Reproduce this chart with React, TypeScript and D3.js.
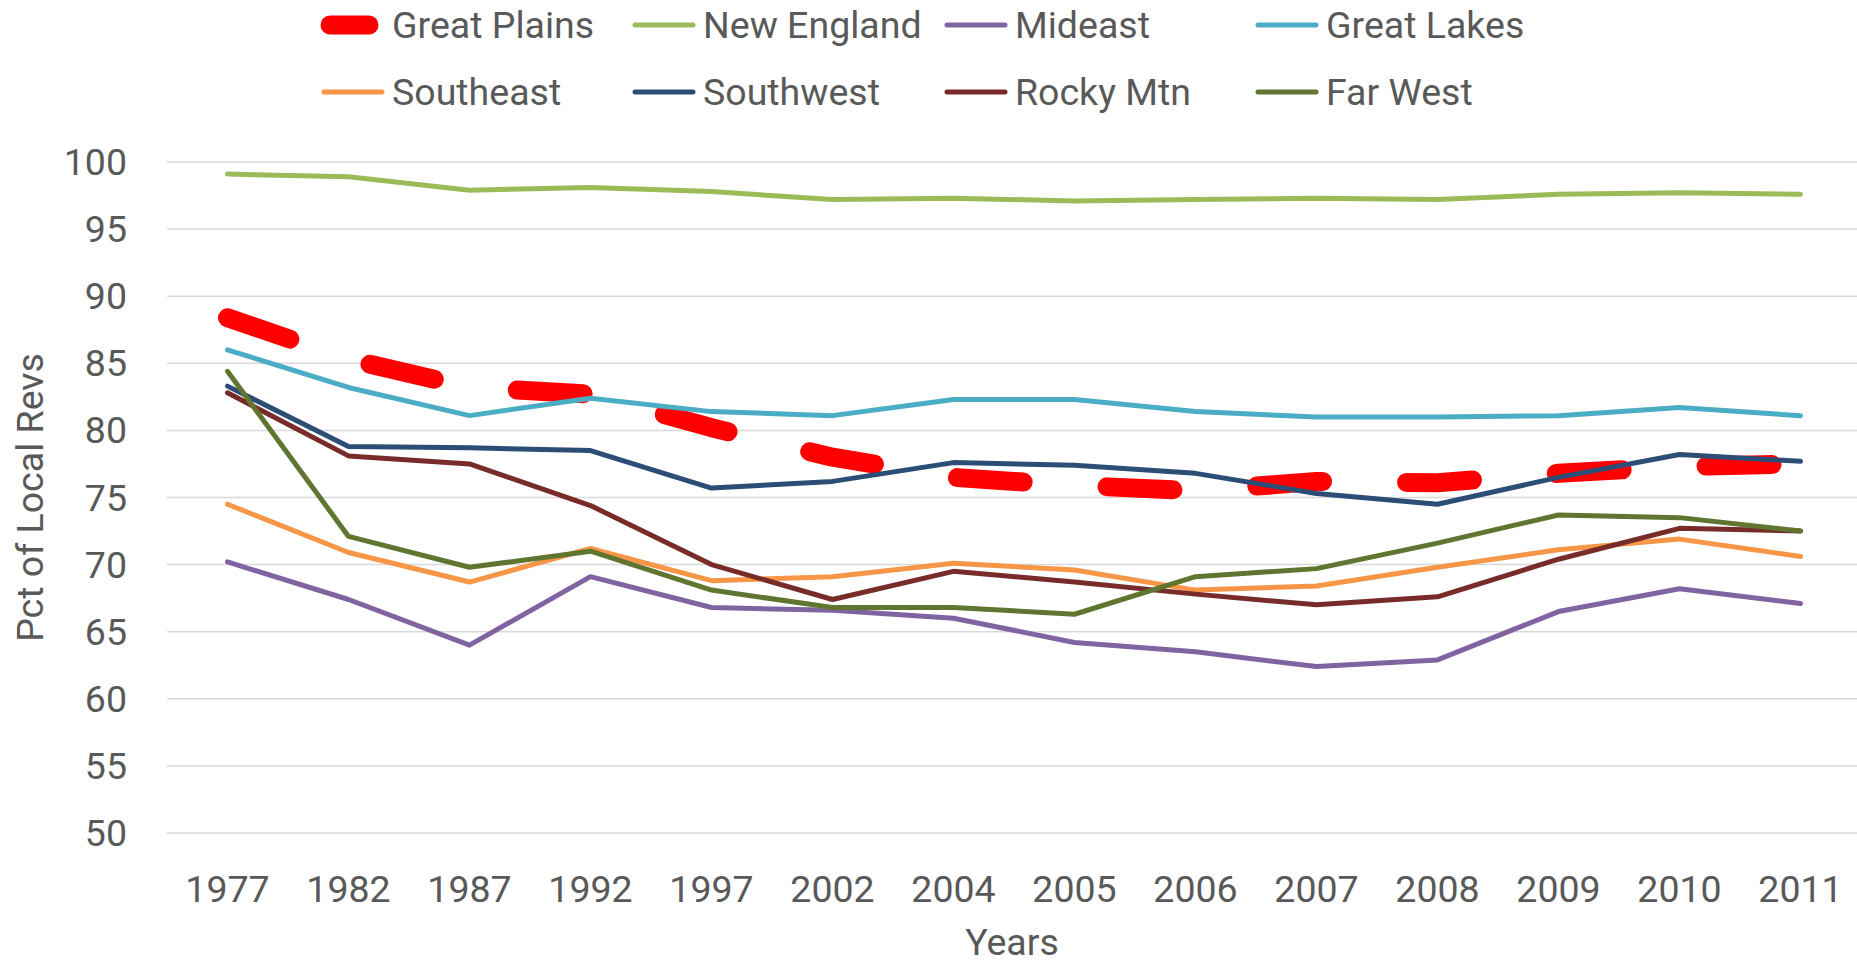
import { useRef, useEffect } from 'react'
import * as d3 from 'd3'

const years = ['1977', '1982', '1987', '1992', '1997', '2002', '2004', '2005', '2006', '2007', '2008', '2009', '2010', '2011']

const greatPlains = [88.4, 85.3, 83.2, 82.7, 80.2, 78.0, 76.5, 75.9, 75.5, 76.2, 76.1, 76.8, 77.3, 77.5]
const newEngland = [99.1, 98.9, 97.9, 98.1, 97.8, 97.2, 97.3, 97.1, 97.2, 97.3, 97.2, 97.6, 97.7, 97.6]
const mideast = [70.2, 67.4, 64.0, 69.1, 66.8, 66.6, 66.0, 64.2, 63.5, 62.4, 62.9, 66.5, 68.2, 67.1]
const greatLakes = [86.0, 83.2, 81.1, 82.4, 81.4, 81.1, 82.3, 82.3, 81.4, 81.0, 81.0, 81.1, 81.7, 81.1]
const southeast = [74.5, 70.9, 68.7, 71.2, 68.8, 69.1, 70.1, 69.6, 68.1, 68.4, 69.8, 71.1, 71.9, 70.6]
const southwest = [83.3, 78.8, 78.7, 78.5, 75.7, 76.2, 77.6, 77.4, 76.8, 75.3, 74.5, 76.5, 78.2, 77.7]
const rockyMtn = [82.8, 78.1, 77.5, 74.4, 70.0, 67.4, 69.5, 68.7, 67.8, 67.0, 67.6, 70.4, 72.7, 72.5]
const farWest = [84.4, 72.1, 69.8, 71.0, 68.1, 66.8, 66.8, 66.3, 69.1, 69.7, 71.6, 73.7, 73.5, 72.5]

const yTicks = [50, 55, 60, 65, 70, 75, 80, 85, 90, 95, 100]

const series = [
  { name: 'Great Plains', values: greatPlains, color: '#FF0000', width: 19, dash: '66,84' },
  { name: 'New England', values: newEngland, color: '#9BBB59', width: 5, dash: null },
  { name: 'Mideast', values: mideast, color: '#8064A2', width: 5, dash: null },
  { name: 'Great Lakes', values: greatLakes, color: '#4BACC6', width: 5, dash: null },
  { name: 'Southeast', values: southeast, color: '#F79646', width: 5, dash: null },
  { name: 'Southwest', values: southwest, color: '#2C4D75', width: 5, dash: null },
  { name: 'Rocky Mtn', values: rockyMtn, color: '#772C2A', width: 5, dash: null },
  { name: 'Far West', values: farWest, color: '#5F7530', width: 5, dash: null },
]

const width = 1857
const height = 966
const margin = { top: 162, right: -4, bottom: 133, left: 167 }
const font = 'Roboto, sans-serif'
const textColor = '#595959'

function drawChart(target: SVGSVGElement) {
  const svg = d3.select(target)
  svg.selectAll('*').remove()

  const xScale = d3
    .scaleBand()
    .domain(years)
    .range([margin.left, width - margin.right])

  const yScale = d3
    .scaleLinear()
    .domain([50, 100])
    .range([height - margin.bottom, margin.top])

  const xPos = (i: number) => (xScale(years[i]) as number) + xScale.bandwidth() / 2

  // gridlines
  svg
    .append('g')
    .selectAll('line')
    .data(yTicks)
    .enter()
    .append('line')
    .attr('x1', margin.left)
    .attr('x2', width)
    .attr('y1', (d) => yScale(d))
    .attr('y2', (d) => yScale(d))
    .attr('stroke', '#D9D9D9')
    .attr('stroke-width', 1.5)

  // y tick labels
  svg
    .append('g')
    .selectAll('text')
    .data(yTicks)
    .enter()
    .append('text')
    .attr('x', 127)
    .attr('y', (d) => yScale(d) + 13)
    .attr('text-anchor', 'end')
    .attr('font-family', font)
    .attr('font-size', 37.5)
    .attr('fill', textColor)
    .text((d) => d)

  // x tick labels
  svg
    .append('g')
    .selectAll('text')
    .data(years)
    .enter()
    .append('text')
    .attr('x', (d) => (xScale(d) as number) + xScale.bandwidth() / 2)
    .attr('y', 902)
    .attr('text-anchor', 'middle')
    .attr('font-family', font)
    .attr('font-size', 37.5)
    .attr('fill', textColor)
    .text((d) => d)

  // axis titles
  svg
    .append('text')
    .attr('x', (margin.left + width) / 2)
    .attr('y', 955)
    .attr('text-anchor', 'middle')
    .attr('font-family', font)
    .attr('font-size', 37.5)
    .attr('fill', textColor)
    .text('Years')

  svg
    .append('text')
    .attr('transform', `translate(43, ${(yScale(50) + yScale(100)) / 2}) rotate(-90)`)
    .attr('text-anchor', 'middle')
    .attr('font-family', font)
    .attr('font-size', 37.5)
    .attr('fill', textColor)
    .text('Pct of Local Revs')

  // lines
  const line = d3
    .line<number>()
    .x((d, i) => xPos(i))
    .y((d) => yScale(d))

  svg
    .append('g')
    .selectAll('path')
    .data(series)
    .enter()
    .append('path')
    .attr('d', (s) => line(s.values))
    .attr('fill', 'none')
    .attr('stroke', (s) => s.color)
    .attr('stroke-width', (s) => s.width)
    .attr('stroke-dasharray', (s) => s.dash)
    .attr('stroke-linecap', 'round')
    .attr('stroke-linejoin', 'round')

  // legend, 4 per row
  const legendX = [392, 703, 1015, 1326]
  const legendY = [25, 92]
  const legend = svg
    .append('g')
    .selectAll('g')
    .data(series)
    .enter()
    .append('g')
    .attr('transform', (s, i) => `translate(${legendX[i % 4]}, ${legendY[Math.floor(i / 4)]})`)

  legend
    .append('line')
    .attr('x1', (s) => (s.width > 10 ? -62 : -68))
    .attr('x2', (s) => (s.width > 10 ? -23 : -10))
    .attr('y1', 0)
    .attr('y2', 0)
    .attr('stroke', (s) => s.color)
    .attr('stroke-width', (s) => s.width)
    .attr('stroke-linecap', 'round')

  legend
    .append('text')
    .attr('x', 0)
    .attr('y', 13)
    .attr('font-family', font)
    .attr('font-size', 37.5)
    .attr('fill', textColor)
    .text((s) => s.name)
}

export default function App() {
  const targetSVG = useRef<SVGSVGElement>(null)

  useEffect(() => {
    if (targetSVG.current) drawChart(targetSVG.current)
  }, [])

  return (
    <svg
      ref={targetSVG}
      width={width}
      height={height}
      style={{ position: 'absolute', left: 0, top: 0, background: '#fff' }}
    />
  )
}
